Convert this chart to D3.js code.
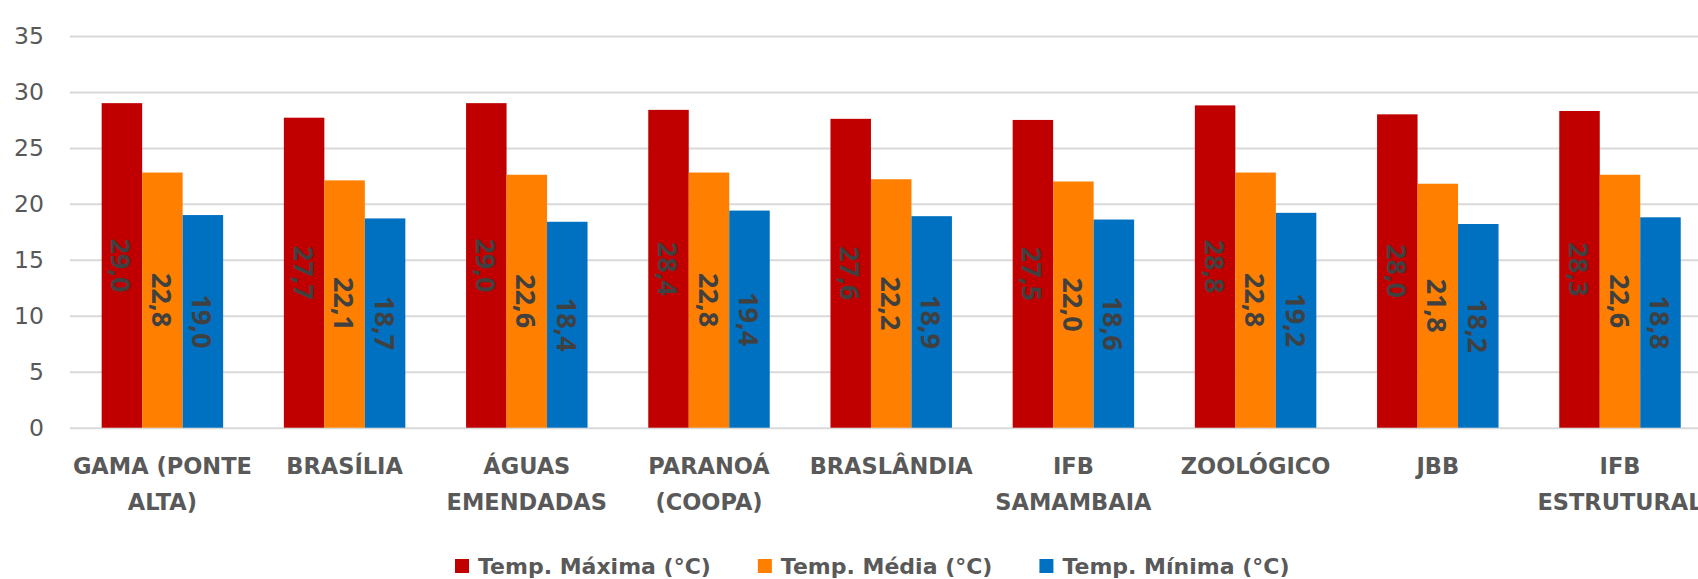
<!DOCTYPE html>
<html>
<head>
<meta charset="utf-8">
<script src="https://cdn.jsdelivr.net/npm/d3@7"></script>
<style>
  html, body { margin: 0; padding: 0; background: #ffffff; }
  svg { display: block; }
</style>
</head>
<body>
<svg id="chart" width="1698" height="579"></svg>
<script>
// ---- data ----
const categories = [
  "GAMA (PONTE ALTA)", "BRASÍLIA", "ÁGUAS EMENDADAS", "PARANOÁ (COOPA)",
  "BRASLÂNDIA", "IFB SAMAMBAIA", "ZOOLÓGICO", "JBB", "IFB ESTRUTURAL"
];
const categoryLines = [
  ["GAMA (PONTE", "ALTA)"], ["BRASÍLIA"], ["ÁGUAS", "EMENDADAS"], ["PARANOÁ", "(COOPA)"],
  ["BRASLÂNDIA"], ["IFB", "SAMAMBAIA"], ["ZOOLÓGICO"], ["JBB"], ["IFB", "ESTRUTURAL"]
];
const seriesNames = ["Temp. Máxima (°C)", "Temp. Média (°C)", "Temp. Mínima (°C)"];
const tempMax = [29.0, 27.7, 29.0, 28.4, 27.6, 27.5, 28.8, 28.0, 28.3];
const tempMed = [22.8, 22.1, 22.6, 22.8, 22.2, 22.0, 22.8, 21.8, 22.6];
const tempMin = [19.0, 18.7, 18.4, 19.4, 18.9, 18.6, 19.2, 18.2, 18.8];
const yTicks = [0, 5, 10, 15, 20, 25, 30, 35];
const seriesColors = ["#c00000", "#ff8000", "#0070c0"];

const seriesValues = [tempMax, tempMed, tempMin];

// ---- layout ----
const svg = d3.select("#chart");
const plotLeft = 71.3, plotRight = 1711.1, yZero = 427.7, yTop = 36;

const y = d3.scaleLinear().domain([0, 35]).range([yZero, yTop]);
const x0 = d3.scaleBand().domain(categories).range([plotLeft, plotRight])
  .paddingInner(1/3).paddingOuter(1/6);
const x1 = d3.scaleBand().domain(seriesNames).range([0, x0.bandwidth()]);
const color = d3.scaleOrdinal().domain(seriesNames).range(seriesColors);

const locale = d3.formatLocale({decimal: ",", thousands: ".", grouping: [3], currency: ["R$", ""]});
const fmt = locale.format(".1f");

// gridlines + tick labels via axis
const yAxis = d3.axisLeft(y).tickValues(yTicks).tickSize(-(1698 - 70)).tickFormat(d3.format("d"));
const gAxis = svg.append("g").attr("transform", "translate(70,0)").call(yAxis);
gAxis.select(".domain").remove();
gAxis.selectAll(".tick line").attr("stroke", "#d9d9d9").attr("stroke-width", 2);
gAxis.selectAll(".tick text")
  .attr("x", -26)
  .attr("fill", "#595959")
  .style("font-family", "'DejaVu Sans', sans-serif")
  .style("font-size", "23.5px");

// bars
const rows = categories.map((c, i) => ({cat: c, vals: seriesNames.map((s, j) => ({s, v: seriesValues[j][i]}))}));
const groups = svg.append("g").selectAll("g").data(rows).join("g")
  .attr("transform", d => `translate(${x0(d.cat)},0)`);

groups.selectAll("rect").data(d => d.vals).join("rect")
  .attr("x", d => x1(d.s))
  .attr("width", x1.bandwidth())
  .attr("y", d => y(d.v))
  .attr("height", d => y(0) - y(d.v))
  .attr("fill", d => color(d.s));

// data labels (rotated, centered in bar)
groups.selectAll("text.lbl").data(d => d.vals).join("text")
  .attr("class", "lbl")
  .attr("transform", d => `translate(${x1(d.s) + x1.bandwidth() / 2},${(y(d.v) + y(0)) / 2}) rotate(90)`)
  .attr("text-anchor", "middle")
  .attr("dominant-baseline", "central")
  .attr("fill", "#404040")
  .style("font-family", "'Open Sans', sans-serif")
  .style("font-weight", "bold")
  .style("font-size", "27px")
  .text(d => fmt(d.v));

// category labels
const catG = svg.append("g").selectAll("text").data(categories).join("text")
  .attr("x", d => x0(d) + x0.bandwidth() / 2)
  .attr("y", 474)
  .attr("text-anchor", "middle")
  .attr("fill", "#595959")
  .style("font-family", "'DejaVu Sans', sans-serif")
  .style("font-weight", "bold")
  .style("font-size", "22.5px");
catG.each(function(d, i) {
  const t = d3.select(this);
  categoryLines[i].forEach((line, k) => {
    t.append("tspan").attr("x", x0(d) + x0.bandwidth() / 2).attr("dy", k === 0 ? 0 : 36).text(line);
  });
});

// legend
const legend = svg.append("g");
let lx = 455;
seriesNames.forEach((s, j) => {
  legend.append("rect").attr("x", lx).attr("y", 559).attr("width", 14).attr("height", 14).attr("fill", color(s));
  const t = legend.append("text")
    .attr("x", lx + 23).attr("y", 574)
    .attr("fill", "#595959")
    .style("font-family", "'DejaVu Sans', sans-serif")
    .style("font-weight", "bold")
    .style("font-size", "22px")
    .text(s);
  lx = lx + 23 + t.node().getComputedTextLength() + 47;
});
</script>
</body>
</html>
